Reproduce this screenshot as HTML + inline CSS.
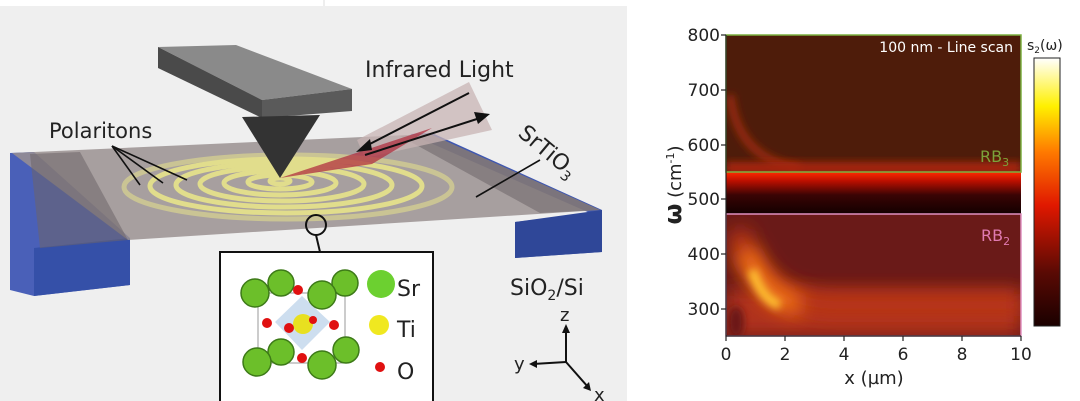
<!DOCTYPE html>
<html><head><meta charset="utf-8"><style>
html,body{margin:0;padding:0;background:#fff;}
svg{display:block;font-family:"DejaVu Sans","Liberation Sans",sans-serif;}
</style></head><body>
<svg width="1080" height="401" viewBox="0 0 1080 401" xmlns="http://www.w3.org/2000/svg">
<defs>
<linearGradient id="cb" x1="0" y1="1" x2="0" y2="0">
<stop offset="0" stop-color="#1a0000"/><stop offset="0.2" stop-color="#5a0a04"/><stop offset="0.45" stop-color="#e01800"/><stop offset="0.65" stop-color="#ff7a00"/><stop offset="0.82" stop-color="#fff000"/><stop offset="1" stop-color="#ffffff"/>
</linearGradient>
<linearGradient id="band" x1="0" y1="0" x2="0" y2="1">
<stop offset="0" stop-color="#ff2a00"/><stop offset="0.2" stop-color="#c01000"/><stop offset="0.55" stop-color="#3a0404"/><stop offset="1" stop-color="#120000"/>
</linearGradient>
<filter id="bl" x="-50%" y="-50%" width="200%" height="200%"><feGaussianBlur stdDeviation="9"/></filter>
<filter id="bl2" x="-50%" y="-50%" width="200%" height="200%"><feGaussianBlur stdDeviation="4"/></filter>
<clipPath id="top"><rect x="726" y="35" width="295" height="137"/></clipPath>
<clipPath id="bot"><rect x="726" y="214" width="295" height="122"/></clipPath>
</defs>
<rect x="0" y="6" width="627" height="395" fill="#efefef"/>
<line x1="324" y1="0" x2="324" y2="6" stroke="#ddd"/>
<polygon points="10,153 34,152 130,238 130,285 34,296 10,290" fill="#4a60b8"/>
<polygon points="34,248 130,238 130,285 34,296" fill="#3550a8"/>
<polygon points="410,134 432,133 602,210 602,252 515,258 515,222 590,213" fill="#4058b0"/>
<polygon points="515,222 602,210 602,252 515,258" fill="#2f4798"/>
<polygon points="12,153 430,134 600,210 128,240" fill="#9a9090" opacity="0.85"/>
<polygon points="30,154 80,152 128,240 40,248" fill="#6e6468" opacity="0.55"/>
<polygon points="400,136 430,134 600,210 540,213" fill="#6e6468" opacity="0.55"/>
<g fill="none" stroke="#e8e48a" stroke-width="5" opacity="0.9">
<ellipse cx="280" cy="181" rx="10" ry="3"/>
<ellipse cx="280" cy="182" rx="32" ry="7"/>
<ellipse cx="280" cy="183" rx="56" ry="12"/>
<ellipse cx="282" cy="184" rx="82" ry="17"/>
<ellipse cx="284" cy="185" rx="108" ry="22"/>
<ellipse cx="286" cy="186" rx="136" ry="27"/>
<ellipse cx="288" cy="187" rx="164" ry="32" opacity="0.6"/>
</g>
<polygon points="357,140 469,82 492,130 365,158" fill="#c8b4b4" opacity="0.75"/>
<polygon points="280,178 432,128 372,164" fill="#b03040" opacity="0.75"/>
<line x1="469" y1="93" x2="362" y2="148" stroke="#111" stroke-width="2"/>
<polygon points="356,152 370,139 372,150" fill="#111"/>
<line x1="365" y1="155" x2="480" y2="118" stroke="#111" stroke-width="2"/>
<polygon points="490,114 474,112 478,124" fill="#111"/>
<polygon points="158,47 236,45 352,89 262,100" fill="#8a8a8a"/>
<polygon points="158,47 262,100 262,118 158,68" fill="#4a4a4a"/>
<polygon points="262,100 352,89 352,111 262,118" fill="#5a5a5a"/>
<polygon points="242,117 320,115 280,178" fill="#333"/>
<text x="365" y="77" font-size="22" fill="#222">Infrared Light</text>
<text x="49" y="138" font-size="21" fill="#222">Polaritons</text>
<g stroke="#111" stroke-width="1.6"><line x1="112" y1="146" x2="140" y2="185"/><line x1="112" y1="146" x2="163" y2="183"/><line x1="112" y1="146" x2="187" y2="180"/></g>
<text x="0" y="0" font-size="22" fill="#222" transform="translate(517,135) rotate(40)">SrTiO<tspan font-size="14" dy="5">3</tspan></text>
<line x1="476" y1="197" x2="540" y2="160" stroke="#111" stroke-width="1.6"/>
<text x="510" y="295" font-size="22" fill="#222">SiO<tspan font-size="14" dy="5">2</tspan><tspan dy="-5">/Si</tspan></text>
<circle cx="316" cy="225" r="10" fill="none" stroke="#111" stroke-width="2"/>
<line x1="316" y1="235" x2="320" y2="252" stroke="#111" stroke-width="2"/>
<rect x="220" y="252" width="213" height="152" fill="#fff" stroke="#111" stroke-width="2"/>
<polygon points="302,296 330,322 302,350 275,322" fill="#b8d0e8" opacity="0.7"/>
<g stroke="#999" stroke-width="1" fill="none"><rect x="258" y="293" width="87" height="70"/></g>
<g fill="#6cbf2a" stroke="#3d7a18" stroke-width="1.5">
<circle cx="281" cy="283" r="13"/><circle cx="345" cy="283" r="13"/>
<circle cx="255" cy="293" r="14"/><circle cx="322" cy="295" r="14"/>
<circle cx="281" cy="352" r="13"/><circle cx="346" cy="350" r="13"/>
<circle cx="257" cy="362" r="14"/><circle cx="322" cy="365" r="14"/>
</g>
<circle cx="303" cy="324" r="10" fill="#e8e020"/>
<g fill="#e01010"><circle cx="298" cy="290" r="5"/><circle cx="267" cy="323" r="5"/><circle cx="334" cy="325" r="5"/><circle cx="289" cy="328" r="5"/><circle cx="313" cy="320" r="4"/><circle cx="302" cy="358" r="5"/></g>
<circle cx="381" cy="284" r="14" fill="#6cd030"/>
<text x="397" y="296" font-size="22" fill="#222">Sr</text>
<circle cx="379" cy="325" r="10" fill="#f0e820"/>
<text x="397" y="337" font-size="22" fill="#222">Ti</text>
<circle cx="380" cy="367" r="5" fill="#e01010"/>
<text x="397" y="379" font-size="22" fill="#222">O</text>
<g stroke="#111" stroke-width="2" fill="none"><line x1="566" y1="362" x2="566" y2="328"/><line x1="566" y1="362" x2="533" y2="364"/><line x1="566" y1="362" x2="588" y2="387"/></g>
<polygon points="566,324 562,333 570,333" fill="#111"/>
<polygon points="529,364 537,360 537,368" fill="#111"/>
<polygon points="591,391 583,388 589,382" fill="#111"/>
<text x="560" y="321" font-size="18" fill="#222">z</text>
<text x="514" y="370" font-size="18" fill="#222">y</text>
<text x="594" y="401" font-size="18" fill="#222">x</text>

<rect x="726" y="35" width="295" height="137" fill="#4e1c0a"/>
<g clip-path="url(#top)">
<path d="M730,95 Q738,160 800,168" stroke="#9a2c10" stroke-width="8" fill="none" filter="url(#bl2)"/>
<rect x="726" y="162" width="295" height="12" fill="#a82808" filter="url(#bl2)"/>
</g>
<rect x="726" y="172" width="295" height="42" fill="url(#band)"/>
<rect x="726" y="214" width="295" height="122" fill="#6a1a18"/>
<g clip-path="url(#bot)">
<rect x="726" y="290" width="295" height="46" fill="#b0301a" filter="url(#bl)"/>
<path d="M738,230 Q755,300 830,305 L1020,305" stroke="#b83418" stroke-width="22" fill="none" filter="url(#bl)"/>
<path d="M745,250 Q765,300 800,305" stroke="#f07018" stroke-width="22" fill="none" filter="url(#bl)"/>
<path d="M752,270 Q762,300 780,305" stroke="#ffc030" stroke-width="10" fill="none" filter="url(#bl2)"/>
<ellipse cx="736" cy="322" rx="8" ry="16" fill="#6a1812" filter="url(#bl2)"/>
</g>
<rect x="726" y="35" width="295" height="137" fill="none" stroke="#7cb040" stroke-width="1.5"/>
<rect x="726" y="214" width="295" height="122" fill="none" stroke="#e090c0" stroke-width="1.5"/>
<text x="1013" y="52" font-size="14" fill="#fff" text-anchor="end">100 nm - Line scan</text>
<text x="980" y="162" font-size="16" fill="#7ca23a">RB<tspan font-size="11" dy="4">3</tspan></text>
<text x="981" y="241" font-size="16" fill="#e07ab0">RB<tspan font-size="11" dy="4">2</tspan></text>
<g stroke="#222" stroke-width="1.2">
<line x1="726" y1="35" x2="726" y2="336"/><line x1="726" y1="336" x2="1021" y2="336"/>
<line x1="721" y1="35" x2="726" y2="35"/><line x1="721" y1="90" x2="726" y2="90"/><line x1="721" y1="145" x2="726" y2="145"/><line x1="721" y1="199" x2="726" y2="199"/><line x1="721" y1="254" x2="726" y2="254"/><line x1="721" y1="309" x2="726" y2="309"/>
<line x1="726" y1="336" x2="726" y2="341"/><line x1="785" y1="336" x2="785" y2="341"/><line x1="844" y1="336" x2="844" y2="341"/><line x1="903" y1="336" x2="903" y2="341"/><line x1="962" y1="336" x2="962" y2="341"/><line x1="1021" y1="336" x2="1021" y2="341"/>
</g>
<g font-size="17" fill="#222" text-anchor="end">
<text x="720" y="41">800</text><text x="720" y="96">700</text><text x="720" y="151">600</text><text x="720" y="205">500</text><text x="720" y="260">400</text><text x="720" y="315">300</text>
</g>
<g font-size="17" fill="#222" text-anchor="middle">
<text x="726" y="360">0</text><text x="785" y="360">2</text><text x="844" y="360">4</text><text x="903" y="360">6</text><text x="962" y="360">8</text><text x="1021" y="360">10</text>
</g>
<text x="874" y="384" font-size="18" fill="#222" text-anchor="middle">x (µm)</text>
<text transform="translate(681,185) rotate(-90)" font-size="18" fill="#222" text-anchor="middle"><tspan font-size="24" font-weight="bold">ω</tspan> (cm<tspan font-size="11" dy="-7">-1</tspan><tspan dy="7">)</tspan></text>
<rect x="1034" y="58" width="26" height="268" fill="url(#cb)" stroke="#222" stroke-width="1"/>
<text x="1027" y="50" font-size="14" fill="#222">s<tspan font-size="9" dy="3">2</tspan><tspan dy="-3">(ω)</tspan></text>
</svg>
</body></html>
